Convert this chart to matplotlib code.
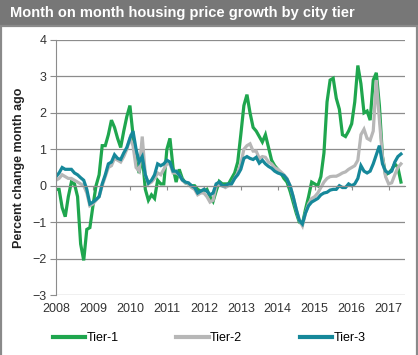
import matplotlib
matplotlib.use("Agg")
import matplotlib.pyplot as plt
import numpy as np

plt.rcParams['font.family'] = ['Liberation Sans', 'DejaVu Sans']

# monthly values, Jan 2008 .. May 2017
tier1 = [-0.1, -0.1, -0.6, -0.85, -0.3, 0.1, 0.05, -0.3, -1.6, -2.05,
         -1.2, -1.15, -0.55, 0.0, 0.3, 1.1, 1.1, 1.4, 1.8, 1.6,
         1.3, 1.05, 1.5, 1.9, 2.2, 1.4, 0.65, 0.35, 0.85, -0.1,
         -0.4, -0.25, -0.35, 0.15, 0.05, 0.05, 1.0, 1.3, 0.5, 0.1,
         0.45, 0.2, 0.08, 0.05, 0.0, 0.0, -0.1, -0.15, -0.15, -0.1,
         -0.3, -0.43, -0.15, 0.12, 0.05, 0.05, 0.05, 0.2, 0.35, 0.65,
         1.4, 2.2, 2.5, 2.0, 1.6, 1.5, 1.35, 1.2, 1.4, 1.05,
         0.7, 0.55, 0.45, 0.35, 0.2, 0.1, -0.15, -0.45, -0.75, -1.0,
         -1.05, -0.65, -0.3, 0.1, 0.05, 0.0, 0.25, 0.9, 2.3, 2.9,
         2.95, 2.4, 2.1, 1.4, 1.35, 1.5, 1.7, 2.3, 3.3, 2.8,
         2.0, 2.05, 1.8, 2.9, 3.1, 2.2, 0.8, 0.3, 0.35, 0.44,
         0.6, 0.5, 0.1]
tier2 = [0.15, 0.2, 0.3, 0.25, 0.2, 0.2, 0.15, 0.1, 0.05, 0.0,
         -0.2, -0.55, -0.5, -0.4, -0.3, 0.0, 0.25, 0.5, 0.55, 0.75,
         0.7, 0.65, 0.8, 1.0, 1.3, 1.1, 0.5, 0.4, 1.35, 0.3,
         0.05, 0.1, 0.2, 0.35, 0.3, 0.45, 0.6, 0.6, 0.35, 0.35,
         0.3, 0.15, 0.08, 0.05, -0.05, -0.1, -0.25, -0.2, -0.2, -0.3,
         -0.45, -0.4, 0.0, 0.05, 0.0, -0.05, 0.0, 0.05, 0.2, 0.35,
         0.6, 1.0, 1.1, 1.15, 0.95, 0.95, 0.75, 0.8, 0.78, 0.65,
         0.6, 0.5, 0.45, 0.38, 0.3, 0.2, 0.0, -0.3, -0.65, -0.95,
         -1.1, -0.75, -0.5, -0.35, -0.3, -0.2, -0.05, 0.1, 0.2, 0.25,
         0.26, 0.26, 0.3, 0.35, 0.38, 0.45, 0.5, 0.55, 0.7, 1.4,
         1.55, 1.3, 1.25, 1.5, 2.9, 1.8, 0.8, 0.25, 0.05, 0.08,
         0.3, 0.5, 0.6]
tier3 = [0.25, 0.35, 0.5, 0.45, 0.45, 0.45, 0.35, 0.3, 0.22, 0.15,
         -0.1, -0.5, -0.45, -0.38, -0.3, 0.05, 0.3, 0.6, 0.65, 0.85,
         0.75, 0.72, 0.9, 1.05, 1.3, 1.5, 1.0, 0.65, 0.8, 0.3,
         0.07, 0.15, 0.3, 0.6, 0.55, 0.6, 0.7, 0.65, 0.4, 0.4,
         0.3, 0.16, 0.1, 0.08, 0.0, -0.05, -0.2, -0.15, -0.1, -0.15,
         -0.25, -0.2, 0.05, 0.1, 0.0, 0.0, 0.05, 0.05, 0.2, 0.3,
         0.45, 0.75, 0.8, 0.75, 0.72, 0.78, 0.62, 0.7, 0.6, 0.53,
         0.48, 0.4, 0.35, 0.32, 0.28, 0.18, 0.0, -0.3, -0.65, -0.95,
         -1.05, -0.75, -0.55, -0.45, -0.4, -0.35, -0.25, -0.2, -0.18, -0.12,
         -0.1, -0.1, 0.0, -0.05, -0.05, 0.05, 0.0, 0.05, 0.2, 0.55,
         0.4, 0.35, 0.4, 0.6, 0.85, 1.1, 0.6, 0.4, 0.35, 0.4,
         0.65, 0.8, 0.87]
series_names = ['Tier-1', 'Tier-2', 'Tier-3']
colors = ['#1fa64e', '#b7b7b7', '#16889a']
years = list(range(2008, 2018))

t = 2008 + np.arange(len(tier1)) / 12.0

fig = plt.figure(figsize=(4.18, 3.55), dpi=100)
W, H = 418.0, 355.0

# title bar and frame
fig.patches.append(plt.Rectangle((0, 1 - 26 / H), 1, 26 / H, transform=fig.transFigure,
                                 facecolor='#777777', edgecolor='none', zorder=0))
fig.patches.append(plt.Rectangle((1 / W, -0.01), 1 - 2 / W, 1 - 26 / H + 0.01,
                                 transform=fig.transFigure, facecolor='none',
                                 edgecolor='#8a8a8a', lw=1.6, zorder=0))
fig.text(10 / W, 1 - 13.5 / H, 'Month on month housing price growth by city tier',
         color='white', fontsize=10.5, fontweight='bold', va='center', ha='left')

ax = fig.add_axes([56 / W, 1 - 295 / H, (405 - 56) / W, (295 - 40) / H])
for vals, name, c in zip([tier1, tier2, tier3], series_names, colors):
    ax.plot(t, vals, color=c, lw=2.3, label=name, solid_joinstyle='miter')

ax.set_ylim(-3, 4)
ax.set_xlim(2008, 2008 + 349 / 36.96)
ax.set_yticks(range(-3, 5))
ax.yaxis.grid(True, color='#8c8c8c', lw=0.9)
ax.set_axisbelow(True)
for s in ['top', 'right']:
    ax.spines[s].set_visible(False)
ax.spines['left'].set_color('#8c8c8c')
ax.spines['bottom'].set_position(('data', 0))
ax.spines['bottom'].set_color('#8c8c8c')
ax.set_xticks(years)
ax.tick_params(axis='x', direction='out', length=3, color='#8c8c8c', labelbottom=False)
ax.tick_params(axis='y', direction='out', length=4, color='#8c8c8c', labelsize=9,
               labelcolor='#333333', pad=3)

sec = ax.secondary_xaxis('bottom')
sec.set_xticks(years)
sec.tick_params(length=0, labelsize=9, labelcolor='#333333', pad=6)
sec.spines['bottom'].set_visible(False)

ax.set_ylabel('Percent change month ago', fontsize=9, fontweight='bold', color='#222222',
              labelpad=5)

leg = fig.legend(loc='center', bbox_to_anchor=(0.5, 1 - 338 / H), ncol=3, frameon=False,
                 fontsize=9, handlelength=2.6, columnspacing=4.6, handletextpad=0.1)
for line in leg.get_lines():
    line.set_linewidth(3)

fig.savefig('out.png', dpi=100)
